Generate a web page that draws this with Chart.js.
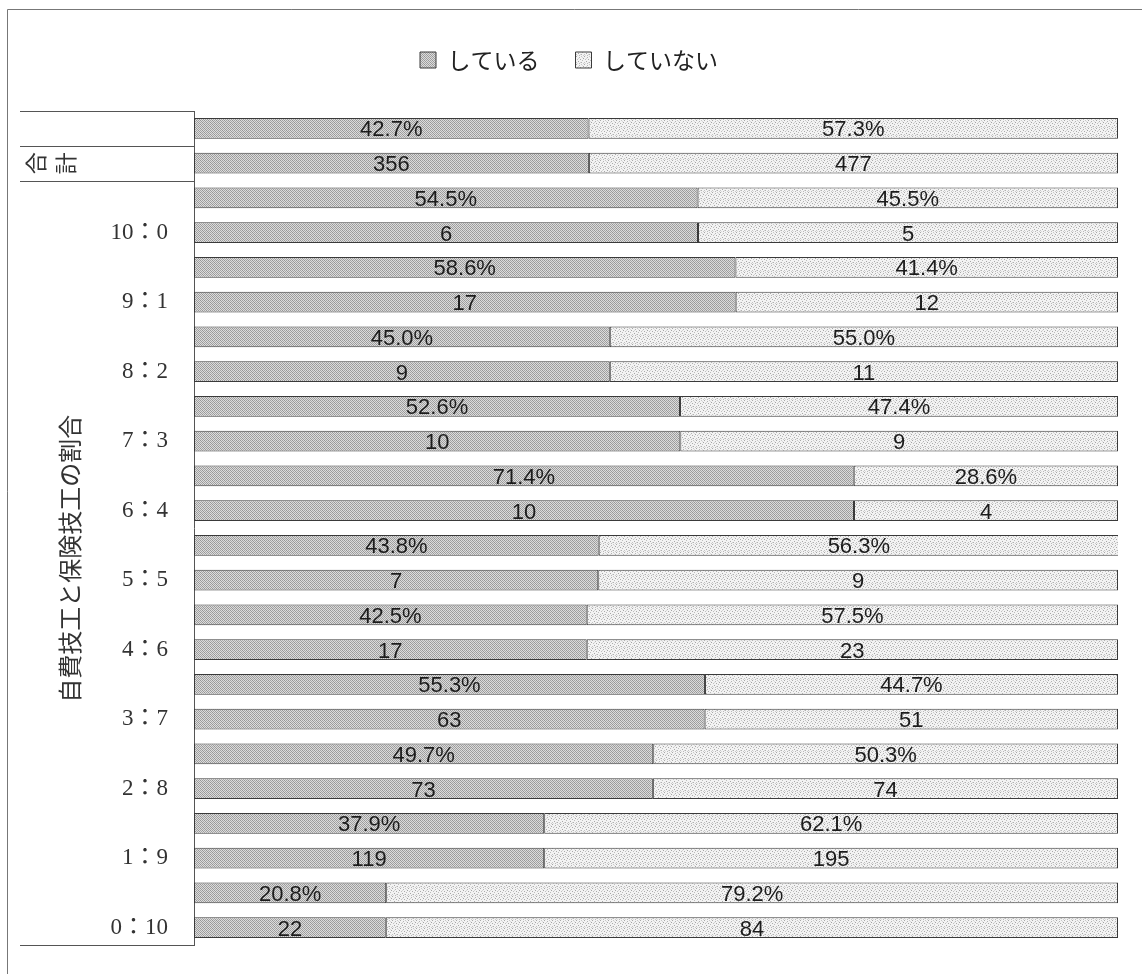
<!DOCTYPE html>
<html lang="ja">
<head>
<meta charset="utf-8">
<title>自費技工と保険技工の割合</title>
<script src="https://cdn.jsdelivr.net/npm/chart.js@4.4.1/dist/chart.umd.min.js"></script>
<style>
html, body { margin: 0; padding: 0; background: #fff; }
canvas { display: block; }
</style>
</head>
<body>
<canvas id="chart" width="1145" height="974"></canvas>
<script>
// Ratio of self-pay to insurance work, and whether the lab does it
const categories = ['合計', '10：0', '9：1', '8：2', '7：3', '6：4', '5：5', '4：6', '3：7', '2：8', '1：9', '0：10'];
const pctDoing   = [42.7, 54.5, 58.6, 45.0, 52.6, 71.4, 43.8, 42.5, 55.3, 49.7, 37.9, 20.8];
const pctNot     = [57.3, 45.5, 41.4, 55.0, 47.4, 28.6, 56.3, 57.5, 44.7, 50.3, 62.1, 79.2];
const countDoing = [356, 6, 17, 9, 10, 10, 7, 17, 63, 73, 119, 22];
const countNot   = [477, 5, 12, 11, 9, 4, 9, 23, 51, 74, 195, 84];
const seriesNames = ['している', 'していない'];
const totalLabel = '合計';
const axisTitle = '自費技工と保険技工の割合';

// Each category becomes two rows: a percentage row, then a count row
const rowLabels = [], doingShare = [], notShare = [], doingText = [], notText = [];
categories.forEach((cat, i) => {
  rowLabels.push('');
  doingShare.push(pctDoing[i]);
  notShare.push(pctNot[i]);
  doingText.push(pctDoing[i].toFixed(1) + '%');
  notText.push(pctNot[i].toFixed(1) + '%');

  const n = countDoing[i] + countNot[i];
  rowLabels.push(cat);
  doingShare.push(countDoing[i] / n * 100);
  notShare.push(countNot[i] / n * 100);
  doingText.push(String(countDoing[i]));
  notText.push(String(countNot[i]));
});
const rowTexts = [doingText, notText];

// Halftone-like fills
function makePattern(size, base, dots) {
  const c = document.createElement('canvas');
  c.width = c.height = size;
  const g = c.getContext('2d');
  g.fillStyle = base;
  g.fillRect(0, 0, size, size);
  dots.forEach(([x, y, col]) => { g.fillStyle = col; g.fillRect(x, y, 1, 1); });
  return g.createPattern(c, 'repeat');
}
const darkFill = makePattern(4, '#dcdcdc', [
  [0, 0, '#959595'], [2, 0, '#a2a2a2'], [1, 1, '#9c9c9c'], [3, 1, '#a8a8a8'],
  [0, 2, '#a4a4a4'], [2, 2, '#969696'], [1, 3, '#a6a6a6'], [3, 3, '#9a9a9a']
]);
const lightFill = makePattern(8, '#f3f3f3', [
  [0, 0, '#a8a8a8'], [5, 0, '#c8c8c8'], [3, 1, '#b4b4b4'], [7, 2, '#a4a4a4'],
  [1, 3, '#c0c0c0'], [4, 3, '#aaaaaa'], [6, 4, '#bcbcbc'], [2, 5, '#a6a6a6'],
  [0, 6, '#c4c4c4'], [5, 6, '#b0b0b0'], [3, 7, '#bababa'], [7, 7, '#cccccc'],
  [6, 1, '#dadada'], [2, 2, '#d6d6d6'], [4, 6, '#d4d4d4'], [1, 7, '#dcdcdc']
]);

const CJK = "'Noto Sans CJK JP', 'Noto Sans', sans-serif";
const SERIF = "'Liberation Serif', 'Noto Sans CJK JP', serif";

// Outer frame, left-hand table, rotated titles
const tablePlugin = {
  id: 'tablePlugin',
  beforeDraw(chart) {
    const ctx = chart.ctx;
    ctx.save();
    ctx.fillStyle = '#fff';
    ctx.fillRect(0, 0, chart.width, chart.height);
    ctx.strokeStyle = '#777';
    ctx.lineWidth = 1;
    ctx.beginPath();
    ctx.moveTo(7.5, chart.height);
    ctx.lineTo(7.5, 9.5);
    ctx.lineTo(1142, 9.5);
    ctx.stroke();
    ctx.restore();
  },
  afterDraw(chart) {
    const ctx = chart.ctx;
    const y = chart.scales.y;
    const area = chart.chartArea;
    const left = 20;
    const right = area.left;
    const boundary = i => (y.getPixelForValue(i) + y.getPixelForValue(i + 1)) / 2;

    ctx.save();
    ctx.strokeStyle = '#555';
    ctx.lineWidth = 1;
    [area.top, boundary(0), boundary(1), area.bottom].forEach(py => {
      const yy = Math.round(py) + 0.5;
      ctx.beginPath();
      ctx.moveTo(left, yy);
      ctx.lineTo(right, yy);
      ctx.stroke();
    });

    // 合計, set vertically and turned on its side
    ctx.fillStyle = '#333';
    ctx.font = '22px ' + CJK;
    ctx.textAlign = 'center';
    ctx.textBaseline = 'middle';
    const totalY = y.getPixelForValue(1);
    [...totalLabel].forEach((ch, k) => {
      ctx.save();
      ctx.translate(36 + k * 30, totalY);
      ctx.rotate(-Math.PI / 2);
      ctx.fillText(ch, 0, 0);
      ctx.restore();
    });

    // Group title for the ratio rows
    const midY = (boundary(1) + area.bottom) / 2 - 4;
    ctx.save();
    ctx.translate(70, midY);
    ctx.rotate(-Math.PI / 2);
    ctx.font = '24px ' + CJK;
    ctx.fillStyle = '#333';
    ctx.fillText(axisTitle, 0, 0);
    ctx.restore();
    ctx.restore();
  }
};

// Values written inside each bar segment
const valueLabels = {
  id: 'valueLabels',
  afterDatasetsDraw(chart) {
    const ctx = chart.ctx;
    ctx.save();
    ctx.font = '22px "Liberation Sans", Arial, sans-serif';
    ctx.fillStyle = '#1c1c1c';
    ctx.textAlign = 'center';
    ctx.textBaseline = 'alphabetic';
    chart.data.datasets.forEach((ds, di) => {
      const meta = chart.getDatasetMeta(di);
      meta.data.forEach((bar, i) => {
        const cx = (bar.x + bar.base) / 2;
        ctx.fillText(rowTexts[di][i], cx, bar.y + 8);
      });
    });
    ctx.restore();
  }
};

new Chart(document.getElementById('chart'), {
  type: 'bar',
  data: {
    labels: rowLabels,
    datasets: [
      {
        label: seriesNames[0],
        data: doingShare,
        backgroundColor: darkFill,
        borderColor: '#3a3a3a',
        borderWidth: 1,
        borderSkipped: false
      },
      {
        label: seriesNames[1],
        data: notShare,
        backgroundColor: lightFill,
        borderColor: '#3a3a3a',
        borderWidth: 1,
        borderSkipped: false
      }
    ]
  },
  options: {
    indexAxis: 'y',
    responsive: false,
    animation: false,
    devicePixelRatio: 1,
    layout: { padding: { top: 12.5, left: 20, right: 27, bottom: 29 } },
    datasets: { bar: { categoryPercentage: 1, barPercentage: 0.6 } },
    scales: {
      x: {
        type: 'linear',
        position: 'top',
        stacked: true,
        min: 0,
        max: 100,
        grid: { display: false, drawTicks: false },
        border: { display: false },
        ticks: { display: false },
        afterFit(scale) { scale.height = 29.5; }
      },
      y: {
        type: 'category',
        stacked: true,
        grid: { display: false, drawTicks: true, tickLength: 24 },
        border: { display: true, color: '#555', width: 1 },
        ticks: {
          autoSkip: false,
          padding: 2,
          color: '#333',
          font: { family: SERIF, size: 23 },
          callback(value) {
            const lab = this.getLabelForValue(value);
            return lab === totalLabel ? '' : lab;
          }
        },
        afterFit(scale) { scale.width = 174; }
      }
    },
    plugins: {
      legend: {
        position: 'top',
        labels: {
          boxWidth: 16,
          boxHeight: 16,
          padding: 36,
          color: '#222',
          font: { family: CJK, size: 23 }
        }
      },
      tooltip: { enabled: false }
    }
  },
  plugins: [tablePlugin, valueLabels]
});
</script>
</body>
</html>
